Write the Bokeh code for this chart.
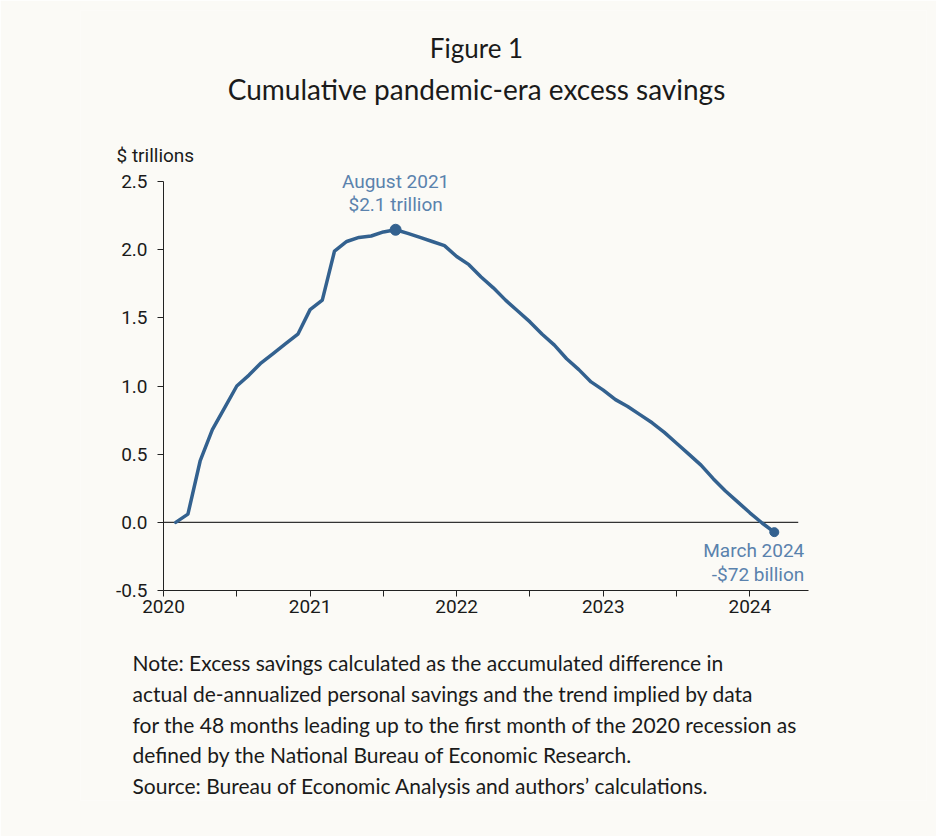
from bokeh.plotting import figure
from bokeh.models import Label, FixedTicker, NumeralTickFormatter, Range1d
from bokeh.embed import file_html
from bokeh.resources import INLINE

# ---- data ----
months = [
    "2020-02", "2020-03", "2020-04", "2020-05", "2020-06", "2020-07", "2020-08", "2020-09",
    "2020-10", "2020-11", "2020-12",
    "2021-01", "2021-02", "2021-03", "2021-04", "2021-05", "2021-06", "2021-07", "2021-08",
    "2021-09", "2021-10", "2021-11", "2021-12",
    "2022-01", "2022-02", "2022-03", "2022-04", "2022-05", "2022-06", "2022-07", "2022-08",
    "2022-09", "2022-10", "2022-11", "2022-12",
    "2023-01", "2023-02", "2023-03", "2023-04", "2023-05", "2023-06", "2023-07", "2023-08",
    "2023-09", "2023-10", "2023-11", "2023-12",
    "2024-01", "2024-02", "2024-03",
]
excess_savings = [
    0.00, 0.06, 0.45, 0.68, 0.84, 1.00, 1.08, 1.17,
    1.24, 1.31, 1.38,
    1.56, 1.63, 1.99, 2.06, 2.09, 2.10, 2.13, 2.146,
    2.12, 2.09, 2.06, 2.03,
    1.95, 1.89, 1.80, 1.72, 1.63, 1.55, 1.47, 1.38,
    1.30, 1.20, 1.12, 1.03,
    0.97, 0.90, 0.85, 0.79, 0.73, 0.66, 0.58, 0.50,
    0.42, 0.32, 0.23, 0.15,
    0.07, -0.005, -0.072,
]
x_ticks = [2020, 2021, 2022, 2023, 2024]
x_minor_ticks = [2020.5, 2021.5, 2022.5, 2023.5]
y_ticks = [-0.5, 0.0, 0.5, 1.0, 1.5, 2.0, 2.5]

peak_label = ["August 2021", "$2.1 trillion"]
end_label = ["March 2024", "-$72 billion"]
fig_label = "Figure 1"
chart_title = "Cumulative pandemic-era excess savings"
y_unit = "$ trillions"
note_lines = [
    "Note: Excess savings calculated as the accumulated difference in",
    "actual de-annualized personal savings and the trend implied by data",
    "for the 48 months leading up to the first month of the 2020 recession as",
    "defined by the National Bureau of Economic Research.",
    "Source: Bureau of Economic Analysis and authors\u2019 calculations.",
]

# ---- derived ----
t = [int(m[:4]) + (int(m[5:]) - 1) / 12 for m in months]
peak_i = excess_savings.index(max(excess_savings))
end_i = len(months) - 1

BG = "#fbfaf6"
LINE = "#33618f"
ANN = "#5a82ad"
TXT = "#1a1a1a"
CH_FONT = "Roboto"
T_FONT = "Lato"
CH_SIZE = "19px"

# axis extents and where they sit on the page
Y_LO, Y_HI = -0.5, 2.5
X_LO, X_HI = 2020.0, 2024.4
AX_LEFT, AX_RIGHT = 163, 808   # pixel columns of X_LO and X_HI
AX_TOP, AX_BOT = 181, 590      # pixel rows of Y_HI and Y_LO
W, H = 936, 836
FL, FR, FT, FB = 80, 926, 10, 800   # drawing frame (holds all annotations)

PXX = (AX_RIGHT - AX_LEFT) / (X_HI - X_LO)
PXY = (AX_BOT - AX_TOP) / (Y_HI - Y_LO)

p = figure(
    output_backend="svg", toolbar_location=None, title_location=None,
    x_range=Range1d(X_LO - (AX_LEFT - FL) / PXX, X_HI + (FR - AX_RIGHT) / PXX),
    y_range=Range1d(Y_LO - (FB - AX_BOT) / PXY, Y_HI + (AX_TOP - FT) / PXY),
    min_border_left=FL, min_border_top=FT,
    min_border_right=W - FR, min_border_bottom=H - FB,
    frame_width=FR - FL, frame_height=FB - FT,
    background_fill_color=BG, border_fill_color=BG,
)
p.outline_line_color = None
p.xgrid.visible = False
p.ygrid.visible = False

# zero line
p.segment(x0=[X_LO], y0=[0], x1=[2024.33], y1=[0], line_color="#333333", line_width=1.2)

p.line(t, excess_savings, line_color=LINE, line_width=3.5, line_join="round", line_cap="round")
p.scatter([t[peak_i]], [excess_savings[peak_i]], size=11, color=LINE)
p.scatter([t[end_i]], [excess_savings[end_i]], size=9, color=LINE)

# axes (kept in their side panels, drawn at the chart's own corner)
xa = p.xaxis[0]
xa.fixed_location = Y_LO
xa.bounds = (X_LO, X_HI)
xa.ticker = FixedTicker(ticks=x_ticks, minor_ticks=x_minor_ticks)
xa.formatter = NumeralTickFormatter(format="0")
xa.axis_line_color = "#222222"
xa.major_tick_line_color = "#222222"
xa.minor_tick_line_color = "#222222"
xa.major_tick_in = 0
xa.major_tick_out = 6
xa.minor_tick_in = 0
xa.minor_tick_out = 6
xa.major_label_standoff = 3
xa.major_label_text_font = CH_FONT
xa.major_label_text_font_size = CH_SIZE
xa.major_label_text_color = TXT

ya = p.yaxis[0]
ya.fixed_location = X_LO
ya.bounds = (Y_LO, Y_HI)
ya.ticker = FixedTicker(ticks=y_ticks, minor_ticks=[])
ya.formatter = NumeralTickFormatter(format="0.0")
ya.axis_line_color = "#222222"
ya.major_tick_line_color = "#222222"
ya.major_tick_in = 0
ya.major_tick_out = 6
ya.minor_tick_line_color = None
ya.major_label_standoff = 10
ya.major_label_text_font = CH_FONT
ya.major_label_text_font_size = CH_SIZE
ya.major_label_text_color = TXT


def page_label(text, cx, cy, size, font, color="#1a1a1a", align="left"):
    # cx, cy: page pixel position (top-left origin) of the text's anchor
    p.add_layout(Label(x=cx - FL, y=FB - cy, x_units="screen", y_units="screen",
                       text=text, text_font=font, text_font_size=size, text_color=color,
                       text_align=align, text_baseline="middle"))


page_label(fig_label, 476, 47, "26px", T_FONT, TXT, "center")
page_label(chart_title, 476, 88, "28px", T_FONT, TXT, "center")
page_label(y_unit, 116, 155, CH_SIZE, CH_FONT, TXT, "left")
for i, line in enumerate(note_lines):
    page_label(line, 132, 662 + i * 30.8, "21px", T_FONT, TXT, "left")

# data annotations
for txt, off in zip(peak_label, [48, 25]):
    p.add_layout(Label(x=t[peak_i], y=excess_savings[peak_i], y_offset=off, text=txt,
                       text_font=CH_FONT, text_font_size=CH_SIZE, text_color=ANN,
                       text_align="center", text_baseline="middle"))
for txt, off in zip(end_label, [-18, -42]):
    p.add_layout(Label(x=t[end_i], y=excess_savings[end_i], x_offset=30, y_offset=off, text=txt,
                       text_font=CH_FONT, text_font_size=CH_SIZE, text_color=ANN,
                       text_align="right", text_baseline="middle"))

open("out.html", "w").write(file_html(p, INLINE))
